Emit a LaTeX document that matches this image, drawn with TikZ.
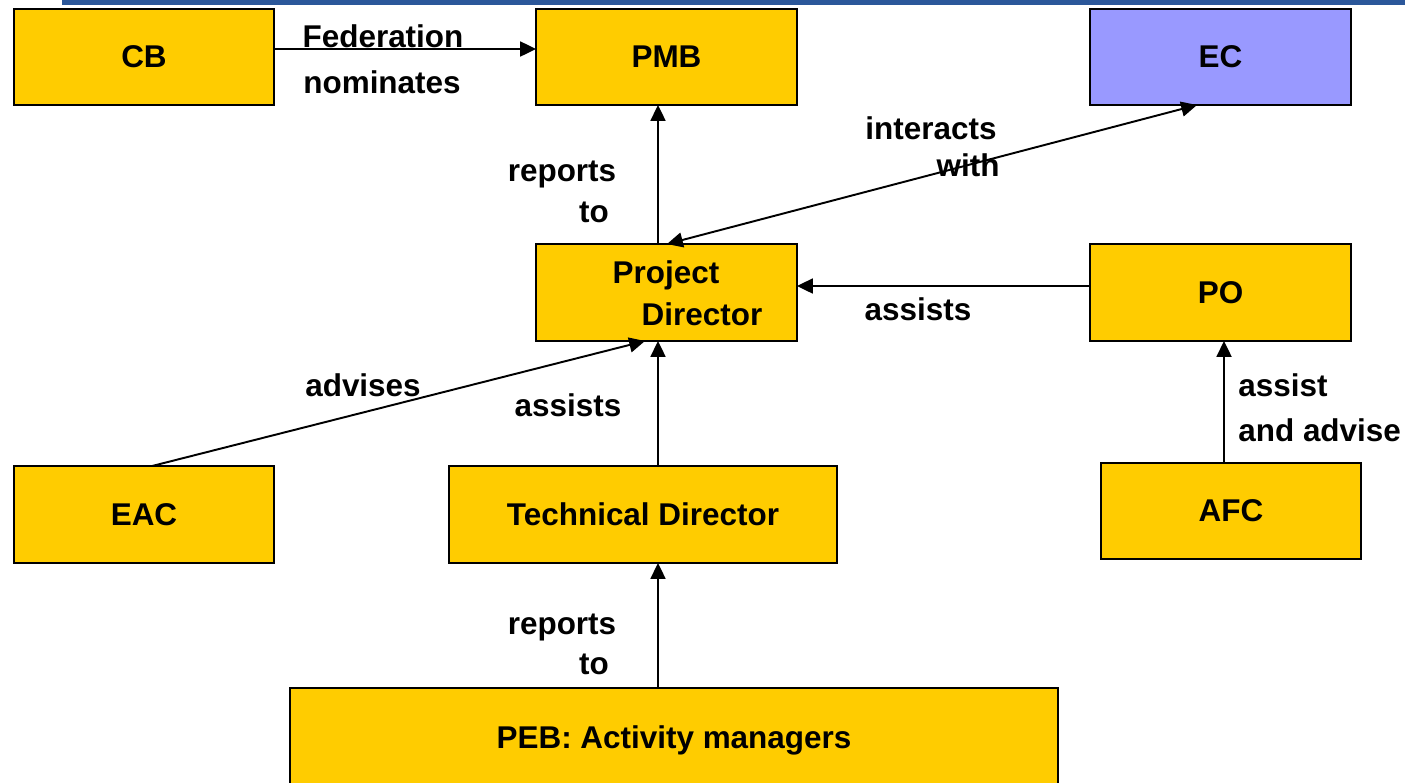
\documentclass[tikz,border=0pt]{standalone}
\usepackage{fontspec}
\setmainfont{Liberation Sans}
\usetikzlibrary{arrows.meta}
\definecolor{boxyellow}{HTML}{FFCC00}
\definecolor{boxblue}{HTML}{9999FF}
\definecolor{bandblue}{HTML}{2B579A}
\tikzset{
  box/.style={draw=black, line width=1.2pt, fill=boxyellow, rectangle, inner sep=0pt, outer sep=0pt,
    font=\fontsize{17.9pt}{21pt}\selectfont\bfseries},
  lbl/.style={inner sep=0pt, font=\fontsize{17.9pt}{21pt}\selectfont\bfseries},
  tip/.tip={Triangle[length=9pt,width=8.5pt]},
  arr/.style={draw=black, line width=1.1pt, -tip},
}
\begin{document}
\begin{tikzpicture}[x=0.02cm, y=-0.02cm]
\useasboundingbox (0,0) rectangle (1405,782);
\begin{scope}
\clip (0,0) rectangle (1405,782);
\fill[bandblue] (62,0) rectangle (1405,5);
\node[box, minimum width=5.2cm, minimum height=1.92cm] (cb) at (144,57) {CB};
\node[box, minimum width=5.22cm, minimum height=1.92cm] (pmb) at (666.5,57) {PMB};
\node[box, fill=boxblue, minimum width=5.22cm, minimum height=1.92cm] (ec) at (1220.5,57) {EC};
\node[box, minimum width=5.22cm, minimum height=1.94cm] (pd) at (666.5,292.5) {};
\node[lbl] (pdt1) at (666,275) {Project};
\node[lbl] (pdt2) at (702,314) {Director};
\node[box, minimum width=5.22cm, minimum height=1.94cm] (po) at (1220.5,292.5) {PO};
\node[box, minimum width=5.2cm, minimum height=1.94cm] (eac) at (144,514.5) {EAC};
\node[box, minimum width=7.76cm, minimum height=1.94cm] (td) at (643,514.5) {Technical Director};
\node[box, minimum width=5.2cm, minimum height=1.92cm] (afc) at (1231,511) {AFC};
\node[box, minimum width=15.36cm, minimum height=2.08cm] (peb) at (674,740) {PEB: Activity managers};

\draw[arr] (cb.east |- 0,49) -- (pmb.west |- 0,49);
\draw[arr] (pd.north -| 658,0) -- (pmb.south -| 658,0);
\draw[arr, tip-tip] (pd.north -| 667,0) -- (ec.south -| 1197,0);
\draw[arr] (po.west |- 0,286) -- (pd.east |- 0,286);
\draw[arr] (eac.north -| 152,0) -- (pd.south -| 645,0);
\draw[arr] (td.north -| 658,0) -- (pd.south -| 658,0);
\draw[arr] (afc.north -| 1224,0) -- (po.south -| 1224,0);
\draw[arr] (peb.north -| 658,0) -- (td.south -| 658,0);

\node[lbl] (l1) at (383,36) {Federation};
\node[lbl] (l2) at (382,82) {nominates};
\node[lbl] (l3) at (562,174) {reports};
\node[lbl] (l4) at (594,212) {to};
\node[lbl] (l5) at (931,128) {interacts};
\node[lbl] (l6) at (968,165) {with};
\node[lbl] (l7) at (918,309) {assists};
\node[lbl] (l8) at (363,385) {advises};
\node[lbl] (l9) at (568,405) {assists};
\node[lbl, anchor=west] (l10) at (1238,385) {assist};
\node[lbl, anchor=west] (l11) at (1238,430) {and advise};
\node[lbl] (l12) at (562,627) {reports};
\node[lbl] (l13) at (594,664) {to};
\end{scope}
\end{tikzpicture}
\end{document}
